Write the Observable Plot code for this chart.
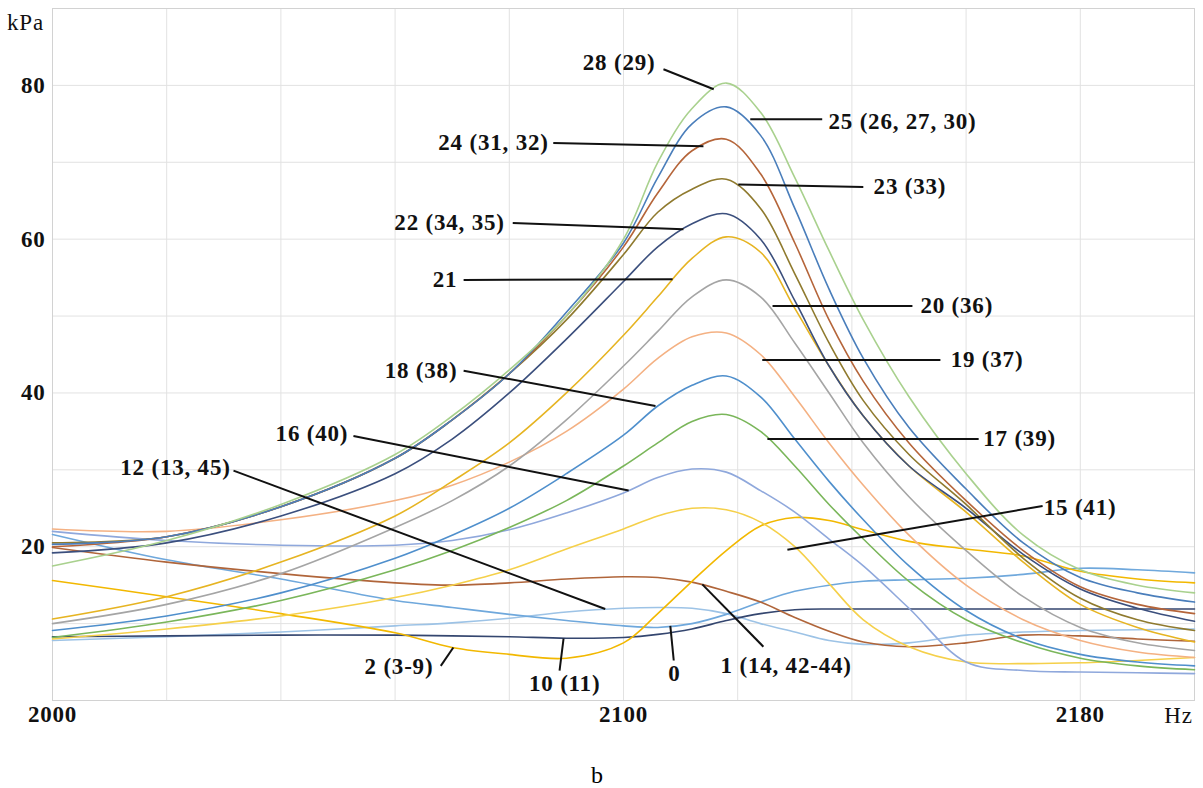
<!DOCTYPE html>
<html><head><meta charset="utf-8">
<script src="https://cdn.jsdelivr.net/npm/d3@7"></script>
<script src="https://cdn.jsdelivr.net/npm/@observablehq/plot@0.6"></script>
<style>
body{margin:0;background:#fff;}
#wrap{position:relative;width:1203px;height:788px;}
#chart svg, #chart svg text{font-family:"Liberation Serif","Times New Roman",serif !important;}
#cap{position:absolute;left:0;top:760px;width:1194px;text-align:center;font:24px "Liberation Serif","Times New Roman",serif;line-height:30px;}
</style></head><body><div id="wrap"><div id="chart"></div><div id="cap">b</div></div>
<script>
// Frequency grid (Hz)
const hz = [2000, 2020, 2040, 2060, 2070, 2080, 2090, 2100, 2106, 2112, 2118, 2124, 2130, 2136, 2142, 2150, 2160, 2170, 2180, 2190, 2200];

// Pressure amplitude series (kPa), one per curve
const s0  = [21.6, 18.3, 15.8, 13.0, 12.1, 11.2, 10.4, 9.7, 9.5, 10.0, 11.2, 12.8, 14.2, 15.0, 15.5, 15.7, 15.9, 16.4, 17.2, 17.0, 16.6];
const s1  = [19.9, 18.0, 16.5, 15.3, 15.0, 15.3, 15.8, 16.1, 16.0, 15.4, 14.2, 12.8, 10.8, 9.0, 7.6, 7.0, 7.5, 8.5, 8.4, 8.0, 7.7];
const s2  = [15.6, 13.5, 11.3, 8.8, 6.9, 6.0, 5.5, 7.5, 11.3, 15.5, 19.5, 22.7, 23.8, 23.4, 22.2, 20.7, 19.7, 18.8, 16.8, 15.8, 15.3];
const s10 = [8.3, 8.4, 8.5, 8.5, 8.4, 8.3, 8.1, 8.2, 8.6, 9.3, 10.4, 11.3, 11.8, 11.9, 11.9, 11.9, 11.9, 11.9, 11.9, 11.9, 11.9];
const s12 = [7.8, 8.3, 8.9, 9.7, 10.1, 10.7, 11.5, 12.0, 12.1, 12.0, 11.3, 10.0, 8.9, 7.8, 7.3, 7.5, 8.5, 8.9, 9.1, 9.2, 9.3];
const s15 = [8.0, 9.3, 11.0, 13.4, 15.0, 17.0, 19.7, 22.3, 24.0, 25.0, 24.8, 23.2, 20.0, 15.2, 10.5, 7.0, 5.0, 4.8, 4.9, 5.2, 5.6];
const s16 = [22.0, 20.8, 20.2, 20.2, 20.8, 22.2, 24.4, 27.0, 29.0, 30.1, 29.7, 27.3, 24.5, 21.0, 17.5, 12.0, 5.0, 3.9, 3.7, 3.6, 3.5];
const s17 = [8.2, 10.2, 13.0, 17.0, 19.5, 22.5, 26.0, 30.5, 33.5, 36.3, 37.2, 35.0, 30.5, 25.5, 21.0, 15.5, 10.5, 7.5, 5.5, 4.5, 4.0];
const s18 = [9.1, 11.0, 14.0, 18.5, 21.5, 25.0, 29.5, 34.5, 38.3, 41.0, 42.2, 39.5, 34.0, 28.5, 23.5, 17.5, 11.7, 8.0, 6.0, 5.0, 4.5];
const s19 = [22.3, 22.0, 23.5, 26.0, 28.0, 31.0, 35.0, 40.5, 44.5, 47.3, 47.8, 45.0, 39.5, 33.5, 28.0, 21.5, 15.0, 10.5, 7.8, 6.3, 5.6];
const s20 = [10.0, 12.5, 16.5, 22.5, 26.0, 30.5, 36.5, 43.5, 48.0, 52.5, 54.7, 52.5, 46.5, 40.0, 33.5, 26.5, 19.5, 13.5, 9.5, 7.5, 6.5];
const s21 = [10.6, 13.5, 18.0, 24.0, 28.5, 33.5, 40.0, 47.5, 52.5, 57.5, 60.3, 58.3, 51.0, 43.5, 37.0, 30.5, 24.5, 18.0, 12.5, 9.5, 7.6];
const s22 = [19.2, 20.5, 24.0, 29.5, 34.0, 40.0, 47.0, 54.5, 59.0, 62.0, 63.3, 60.0, 52.0, 43.5, 37.0, 30.5, 25.0, 19.0, 14.5, 12.0, 10.3];
const s23 = [20.5, 21.3, 25.2, 31.5, 36.5, 42.5, 49.5, 58.0, 63.5, 66.5, 67.8, 64.0, 55.5, 46.5, 39.0, 32.0, 25.5, 18.5, 13.3, 10.5, 9.1];
const s24 = [20.0, 21.3, 25.2, 31.5, 36.5, 42.5, 50.0, 59.0, 66.0, 71.5, 73.0, 68.5, 59.5, 49.5, 41.5, 33.5, 26.0, 19.5, 14.8, 12.5, 11.3];
const s25 = [20.3, 21.3, 25.2, 31.5, 36.5, 42.5, 50.5, 59.5, 68.0, 75.0, 77.2, 73.5, 64.0, 53.5, 44.5, 35.5, 27.5, 20.5, 16.0, 14.0, 12.8];
const s28 = [17.5, 20.8, 25.5, 32.0, 37.0, 43.0, 50.0, 60.0, 70.0, 77.0, 80.3, 76.5, 68.0, 58.5, 49.5, 39.5, 29.5, 21.5, 17.0, 15.0, 14.0];

const seriesNames  = ["12", "10", "0", "1", "2", "15", "16", "17", "18", "19", "20", "21", "22", "23", "24", "25", "28"];
const seriesValues = [s12, s10, s0, s1, s2, s15, s16, s17, s18, s19, s20, s21, s22, s23, s24, s25, s28];
const seriesColors = ["#9dc3e6", "#34466f", "#6fa8dc", "#b0653a", "#f2b800", "#f5d04a", "#8fa8dc", "#7ab65a", "#4f8fcc", "#f4b183", "#a5a5a5", "#e6b422", "#3b4f7d", "#8f7a2e", "#b5653a", "#4a7ebb", "#a9d18e"];

// Curve labels and their leader lines (in Hz / kPa)
const labelText   = ["28 (29)", "25 (26, 27, 30)", "24 (31, 32)", "23 (33)", "22 (34, 35)", "21", "20 (36)", "19 (37)", "18 (38)", "17 (39)", "16 (40)", "15 (41)", "12 (13, 45)", "2 (3-9)", "10 (11)", "0", "1 (14, 42-44)"];
const labelHz     = [2105.6, 2135.9, 2086.9, 2143.8, 2079.2, 2070.9, 2152.0, 2157.3, 2070.9, 2163.0, 2051.8, 2173.6, 2031.2, 2066.7, 2089.7, 2108.9, 2117.0];
const labelKPa    = [82.9, 75.3, 72.6, 66.8, 62.1, 54.7, 51.4, 44.3, 42.9, 34.0, 34.7, 25.1, 30.3, 4.4, 2.2, 3.5, 4.5];
const labelAnchor = ["end", "start", "end", "start", "end", "end", "start", "start", "end", "start", "end", "start", "end", "end", "middle", "middle", "start"];
const leadHz1  = [2107.0, 2134.8, 2087.7, 2142.0, 2080.6, 2072.0, 2150.6, 2155.5, 2072.0, 2162.2, 2052.7, 2173.4, 2031.7, 2068.0, 2088.8, 2108.8, 2124.5];
const leadKPa1 = [82.1, 75.6, 72.5, 66.8, 62.1, 54.7, 51.3, 44.3, 42.9, 34.0, 34.4, 25.3, 29.9, 4.5, 3.9, 5.2, 7.0];
const leadHz2  = [2115.8, 2122.2, 2114.0, 2120.1, 2110.5, 2108.6, 2126.1, 2124.3, 2105.6, 2125.2, 2100.9, 2128.7, 2096.8, 2070.2, 2089.5, 2108.2, 2113.8];
const leadKPa2 = [79.5, 75.6, 72.1, 67.1, 61.3, 54.8, 51.3, 44.3, 38.3, 34.0, 27.3, 19.6, 11.9, 6.9, 8.05, 9.7, 15.1];

const xTicks = [2000, 2100, 2180];
const yTicks = [20, 40, 60, 80];

const rows = [];
seriesNames.forEach((name, i) => seriesValues[i].forEach((v, j) => rows.push({hz: hz[j], kPa: v, s: name, c: seriesColors[i]})));
const labels = labelText.map((t, i) => ({t, x: labelHz[i], y: labelKPa[i], a: labelAnchor[i]}));
const leads = labelText.map((t, i) => ({x1: leadHz1[i], y1: leadKPa1[i], x2: leadHz2[i], y2: leadKPa2[i]}));

const font = '"Liberation Serif","Times New Roman",serif';
const chart = Plot.plot({
  width: 1203, height: 750,
  marginLeft: 52, marginRight: 9, marginTop: 8, marginBottom: 50,
  style: {fontFamily: font, fontSize: "23px", fontWeight: "bold", letterSpacing: "0.8px", background: "#fff", color: "#111"},
  x: {domain: [2000, 2200]},
  y: {domain: [0, 90]},
  marks: [
    Plot.gridX(d3.range(2000, 2201, 20), {stroke: "#e2e2e2", strokeOpacity: 1}),
    Plot.gridY(d3.range(0, 91, 10), {stroke: "#e2e2e2", strokeOpacity: 1}),
    Plot.frame({stroke: "#d2d2d2"}),
    Plot.line(rows, {x: "hz", y: "kPa", z: "s", stroke: "c", strokeWidth: 1.6, curve: "catmull-rom"}),
    Plot.link(leads, {x1: "x1", y1: "y1", x2: "x2", y2: "y2", stroke: "#111", strokeWidth: 2}),
    Plot.text(labels.filter(d => d.a === "start"), {x: "x", y: "y", text: "t", textAnchor: "start", lineAnchor: "middle", fill: "#111"}),
    Plot.text(labels.filter(d => d.a === "end"), {x: "x", y: "y", text: "t", textAnchor: "end", lineAnchor: "middle", fill: "#111"}),
    Plot.text(labels.filter(d => d.a === "middle"), {x: "x", y: "y", text: "t", textAnchor: "middle", lineAnchor: "middle", fill: "#111"}),
    Plot.axisX(xTicks, {tickSize: 0, tickPadding: 5, tickFormat: d => String(d), label: null, fill: "#111"}),
    Plot.axisY(yTicks, {tickSize: 0, tickPadding: 7, tickFormat: d => String(d), label: null, fill: "#111"}),
    Plot.text(["kPa"], {frameAnchor: "top-left", dx: -27, dy: 14, textAnchor: "middle", lineAnchor: "middle", fontWeight: "normal", fill: "#111"}),
    Plot.text(["Hz"], {frameAnchor: "bottom-right", dx: -16, dy: 15, textAnchor: "middle", lineAnchor: "middle", fontWeight: "normal", fill: "#111"})
  ]
});
document.getElementById("chart").appendChild(chart);
</script></body></html>
